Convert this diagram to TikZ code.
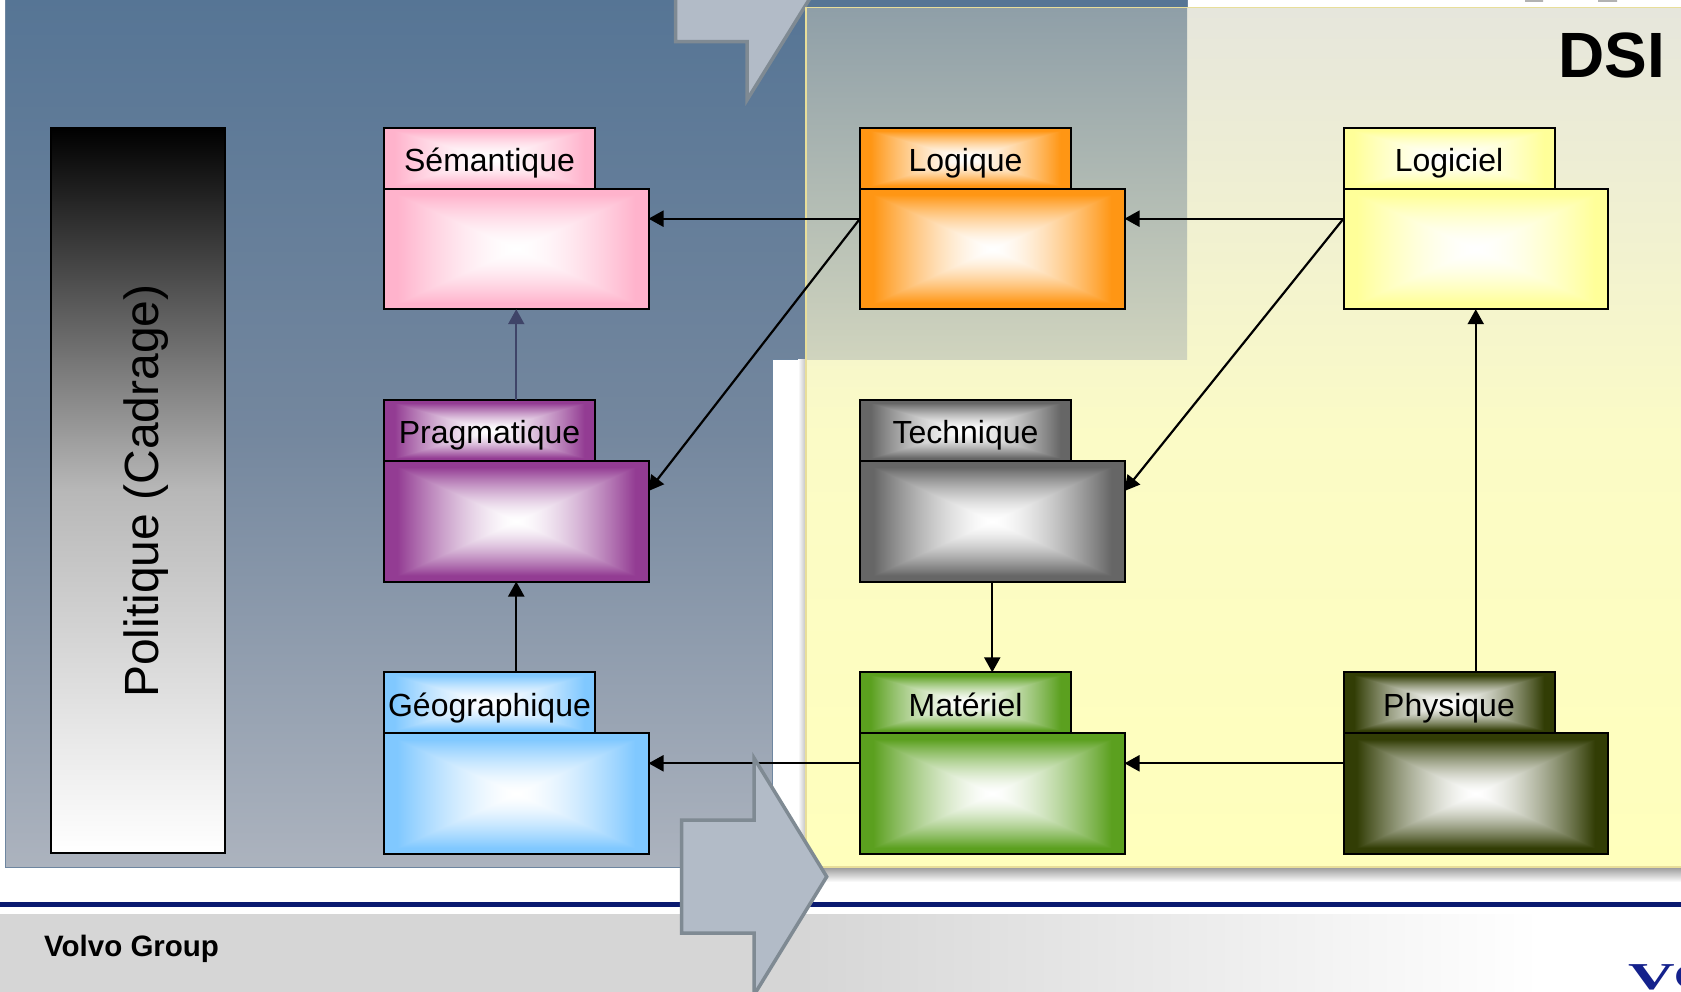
\documentclass[tikz,border=0pt]{standalone}
\usepackage{fontspec}
\setmainfont{Liberation Sans}
\newfontfamily\logofont{Liberation Serif}
\usetikzlibrary{arrows.meta,positioning}

\definecolor{semcol}{HTML}{FFB3CC}
\definecolor{pragcol}{HTML}{933C93}
\definecolor{geocol}{HTML}{80C8FF}
\definecolor{logcol}{HTML}{FF9614}
\definecolor{techcol}{HTML}{666666}
\definecolor{matcol}{HTML}{5BA01F}
\definecolor{softcol}{HTML}{FFFF99}
\definecolor{physcol}{HTML}{323D05}
\definecolor{boxcol}{HTML}{FFFFFF}
\definecolor{arrowfill}{HTML}{B2BBC7}
\definecolor{arrowline}{HTML}{7F8A93}
\definecolor{bluetop}{HTML}{567595}
\definecolor{bluemid}{HTML}{74879E}
\definecolor{bluebot}{HTML}{ACB3BE}
\definecolor{blueline}{HTML}{6E86A0}
\definecolor{dsitop}{HTML}{E6E6DC}
\definecolor{dsimid}{HTML}{FBFBC6}
\definecolor{dsibot}{HTML}{FFFFBC}
\definecolor{dsiline}{HTML}{E8DE9A}
\definecolor{overtop}{HTML}{8F9FA8}
\definecolor{overbot}{HTML}{D0D4BE}
\definecolor{footgray}{HTML}{D6D6D6}
\definecolor{navy}{HTML}{0A1A70}
\definecolor{logoblue}{HTML}{14218C}
\definecolor{pragline}{HTML}{3F4468}

% white centre, box colour at the rim
\pgfdeclarefunctionalshading[boxcol]{packshade}{\pgfpoint{-50bp}{-50bp}}{\pgfpoint{50bp}{50bp}}
{\pgfshadecolortorgb{boxcol}{\boxrgb}}
{abs 25 div exch abs 25 div 2 copy gt {pop} {exch pop} ifelse
 0.9 div dup 1 gt {pop 1} if dup sqrt mul
 \boxrgb
 3 index exch 1 exch sub mul 1 exch sub 3 1 roll
 3 index exch 1 exch sub mul 1 exch sub 3 1 roll
 3 index exch 1 exch sub mul 1 exch sub
 4 1 roll 3 -1 roll pop}

\begin{document}
\begin{tikzpicture}[x=1pt, y=-1pt, node distance=272.3pt, font=\fontsize{32}{38}\selectfont]

% Define styles
\tikzset{tint/.code={\colorlet{boxcol}{#1}}}
\tikzstyle{tabbox} = [rectangle, draw, line width=2pt, inner sep=0pt, outer sep=0pt, shade, shading=packshade, minimum width=211pt, minimum height=61pt, text height=26.5pt, text depth=0pt]
\tikzstyle{bodybox} = [rectangle, draw, line width=2pt, inner sep=0pt, outer sep=0pt, shade, shading=packshade, minimum width=264.5pt, minimum height=120.5pt, anchor=north west]
\tikzstyle{arrow} = [line width=2.2pt, -{Triangle[length=15pt,width=16pt]}]
\tikzstyle{bigarrow} = [draw=arrowline, fill=arrowfill, line width=3.5pt, miter limit=10]

\useasboundingbox (0,0) rectangle (1681,992);

% Background panels
\shade [top color=bluetop, bottom color=bluebot, middle color=bluemid, draw=blueline, line width=1pt]
  (5.5,-2) -- (1187,-2) -- (1187,359) -- (772,359) -- (772,867) -- (5.5,867) -- cycle;
\path [bigarrow] (675.7,-5) -- (675.7,41.7) -- (747,41.7) -- (747,100) -- (812,-5);

% Panel shadow
\shade [left color=white, right color=black!25] (798,359) rectangle (806,867);
\shade [top color=black!40, bottom color=white] (800,867) rectangle (1681,882);

\shade [top color=dsitop, bottom color=dsibot, middle color=dsimid] (806,7.5) rectangle (1690,867);
\draw [dsiline, line width=1.5pt] (1690,7.5) -- (806,7.5) -- (806,867) -- (1690,867);
\shade [top color=overtop, bottom color=overbot] (807,8.5) rectangle (1187,359);

% Marks at the top edge
\fill [black!30] (1525,0) rectangle (1543,2) (1598,0) rectangle (1617,2);

% Nodes
\node [anchor=north east, inner sep=0pt, font=\fontsize{64}{72}\selectfont\bfseries] (dsi) at (1665,33) {DSI};

\shade [top color=black, bottom color=white, middle color=black!28, draw=black, line width=1.2pt] (51,128) rectangle (225,853);
\node [rotate=90, font=\fontsize{48}{56}\selectfont] (politique) at (146,491) {Politique (Cadrage)};

\node [tabbox, tint=semcol] (semantique_tab) at (489.5,158.2) {Sémantique};
\node [bodybox, tint=semcol] (semantique_body) at (semantique_tab.south west) {};
\node [tabbox, tint=pragcol, below of=semantique_tab] (pragmatique_tab) {Pragmatique};
\node [bodybox, tint=pragcol] (pragmatique_body) at (pragmatique_tab.south west) {};
\node [tabbox, tint=geocol, below of=pragmatique_tab] (geographique_tab) {Géographique};
\node [bodybox, tint=geocol] (geographique_body) at (geographique_tab.south west) {};

\node [tabbox, tint=logcol, right of=semantique_tab, node distance=476pt] (logique_tab) {Logique};
\node [bodybox, tint=logcol] (logique_body) at (logique_tab.south west) {};
\node [tabbox, tint=techcol, below of=logique_tab] (technique_tab) {Technique};
\node [bodybox, tint=techcol] (technique_body) at (technique_tab.south west) {};
\node [tabbox, tint=matcol, below of=technique_tab] (materiel_tab) {Matériel};
\node [bodybox, tint=matcol] (materiel_body) at (materiel_tab.south west) {};

\node [tabbox, tint=softcol, right of=logique_tab, node distance=483.5pt] (logiciel_tab) {Logiciel};
\node [bodybox, tint=softcol] (logiciel_body) at (logiciel_tab.south west) {};
\node [tabbox, tint=physcol, below of=logiciel_tab, node distance=544.6pt] (physique_tab) {Physique};
\node [bodybox, tint=physcol] (physique_body) at (physique_tab.south west) {};

% Arrows
\draw [arrow, pragline] (pragmatique_body.center |- pragmatique_tab.north) -- (semantique_body.south);
\draw [arrow] (geographique_body.center |- geographique_tab.north) -- (pragmatique_body.south);
\draw [arrow] ([yshift=-30pt]logique_body.north west) -- ([yshift=-30pt]semantique_body.north east);
\draw [arrow] ([yshift=-30pt]logique_body.north west) -- ([yshift=-30pt]pragmatique_body.north east);
\draw [arrow] ([yshift=-30pt]logiciel_body.north west) -- ([yshift=-30pt]logique_body.north east);
\draw [arrow] ([yshift=-30pt]logiciel_body.north west) -- ([yshift=-30pt]technique_body.north east);
\draw [arrow] (technique_body.south) -- (materiel_body.center |- materiel_tab.north);
\draw [arrow] (physique_body.center |- physique_tab.north) -- (logiciel_body.south);
\draw [arrow] ([yshift=-30pt]physique_body.north west) -- ([yshift=-30pt]materiel_body.north east);
\draw [arrow] ([yshift=-30pt]materiel_body.north west) -- ([yshift=-30pt]geographique_body.north east);

% Footer
\fill [footgray] (0,914) rectangle (800,992);
\shade [left color=footgray, right color=white] (800,914) rectangle (1540,992);
\fill [navy] (0,902) rectangle (1681,906.5);
\node [anchor=west, inner sep=0pt, font=\fontsize{29.5}{34}\selectfont\bfseries] (volvo) at (44,949) {Volvo Group};
\begin{scope}
\clip (0,0) rectangle (1681,992);
\node [anchor=base west, inner sep=0pt, xscale=1.7, text=logoblue, font=\logofont\fontsize{38}{44}\selectfont\bfseries] (logo) at (1628,989) {VO};
\end{scope}

\path [bigarrow] (681.7,820) -- (754,820) -- (754,758) -- (826.7,876.7) -- (754,995) -- (754,933) -- (681.7,933) -- cycle;

\end{tikzpicture}
\end{document}
